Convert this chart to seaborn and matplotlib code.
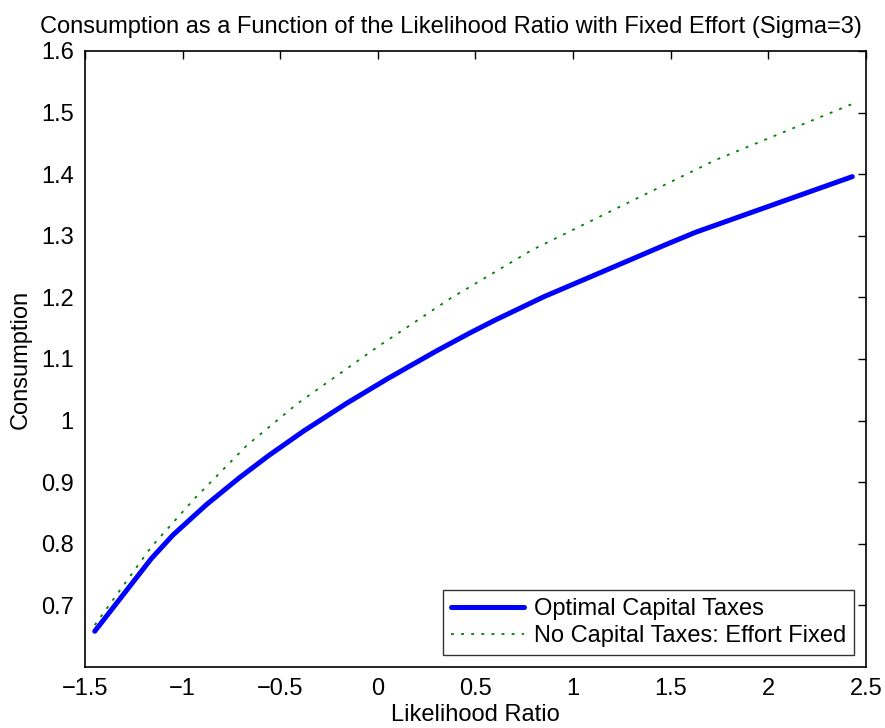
import matplotlib
matplotlib.use("Agg")
import matplotlib.pyplot as plt
import seaborn as sns
import pandas as pd

# Dados
x_otimo = [-1.45, -1.16, -1.05, -0.88, -0.71, -0.56, -0.38, -0.16, 0.05, 0.3, 0.47,
           0.6, 0.85, 1.19, 1.47, 1.63, 2.43]
y_otimo = [0.658, 0.776, 0.814, 0.863, 0.907, 0.943, 0.983, 1.028, 1.068, 1.113, 1.142,
           1.163, 1.201, 1.247, 1.285, 1.306, 1.396]

x_sem = [-1.45, -1.16, -0.94, -0.67, -0.41, 0.0, 0.37, 0.79, 1.29, 1.73, 2.43]
y_sem = [0.668, 0.795, 0.873, 0.960, 1.028, 1.120, 1.198, 1.277, 1.355, 1.423, 1.514]

x_ticks = [-1.5, -1, -0.5, 0, 0.5, 1, 1.5, 2, 2.5]
x_tick_labels = ["\u22121.5", "\u22121", "\u22120.5", "0", "0.5", "1", "1.5", "2", "2.5"]
y_ticks = [0.7, 0.8, 0.9, 1.0, 1.1, 1.2, 1.3, 1.4, 1.5, 1.6]
y_tick_labels = ["0.7", "0.8", "0.9", "1", "1.1", "1.2", "1.3", "1.4", "1.5", "1.6"]

titulo = "Consumption as a Function of the Likelihood Ratio with Fixed Effort (Sigma=3)"

sns.set_style("white")
plt.rcParams["font.family"] = ["Liberation Sans", "DejaVu Sans"]
plt.rcParams["text.color"] = "black"
plt.rcParams["axes.labelcolor"] = "black"

df_otimo = pd.DataFrame({"x": x_otimo, "y": y_otimo})
df_sem = pd.DataFrame({"x": x_sem, "y": y_sem})

fig = plt.figure(figsize=(8.85, 7.28), dpi=100)
ax = fig.add_axes([0.096, 0.0838, 0.8825, 0.8462])

sns.lineplot(data=df_otimo, x="x", y="y", ax=ax, color="#0000ff", lw=3.6,
             label="Optimal Capital Taxes", sort=False)
sns.lineplot(data=df_sem, x="x", y="y", ax=ax, color="#008000", lw=1.3,
             label="No Capital Taxes: Effort Fixed", sort=False)
tracos = (1.6, 4.0)
ax.lines[1].set_dashes(tracos)

ax.set_xlim(-1.5, 2.5)
ax.set_ylim(0.6, 1.6)
ax.set_xticks(x_ticks)
ax.set_xticklabels(x_tick_labels)
ax.set_yticks(y_ticks)
ax.set_yticklabels(y_tick_labels)

ax.tick_params(direction="in", length=6, width=1, labelsize=17, pad=8,
               top=True, right=True, colors="black")
for s in ax.spines.values():
    s.set_visible(True)
    s.set_color("black")
    s.set_linewidth(1.2)

ax.set_xlabel("Likelihood Ratio", fontsize=17, labelpad=3)
ax.set_ylabel("Consumption", fontsize=17, labelpad=7)
# título alinhado à esquerda para caber inteiro na figura
fig.text(40 / 885, 1 - 33 / 728, titulo, fontsize=17, ha="left", va="baseline")

leg = ax.legend(loc="lower right", fontsize=17, frameon=True, fancybox=False,
                edgecolor="black", handlelength=3.1, borderpad=0.35, labelspacing=0.2,
                borderaxespad=0.5, handletextpad=0.4)
leg.get_frame().set_linewidth(1.0)
leg.get_lines()[1].set_dashes(tracos)

fig.savefig("out.png", dpi=100)
